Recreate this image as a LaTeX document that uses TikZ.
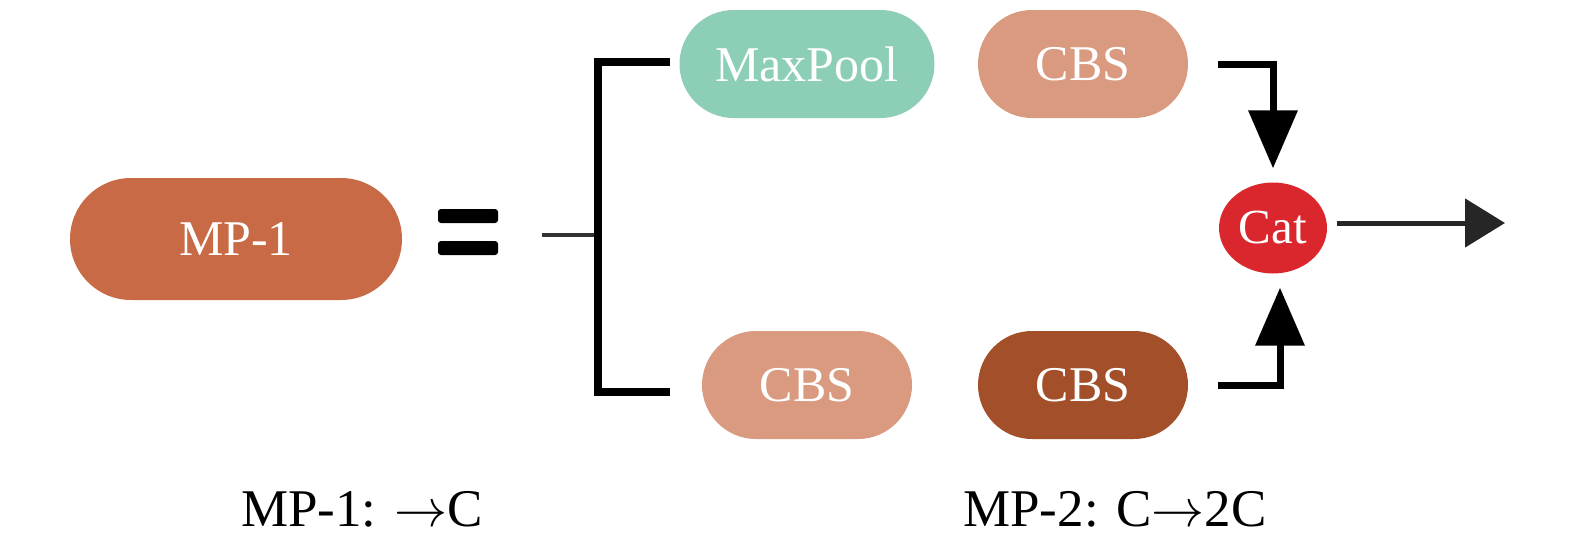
\RequirePackage{fix-cm}
\documentclass[tikz,border=0pt]{standalone}
\usepackage{fontspec}
\setmainfont{Liberation Serif}
\usetikzlibrary{shapes.misc,shapes.geometric,arrows.meta}
\definecolor{mpred}{RGB}{200,106,69}
\definecolor{poolgreen}{RGB}{141,207,182}
\definecolor{cbslight}{RGB}{217,154,128}
\definecolor{cbsdark}{RGB}{163,79,41}
\definecolor{catred}{RGB}{218,39,45}
\tikzset{
  blk/.style={rounded rectangle,fill=#1,text=white,inner sep=0pt,
    minimum width=210pt,minimum height=108pt,font=\fontsize{50}{60}\selectfont},
  arr/.style={line width=7pt,shorten <=30pt,shorten >=14pt,
    -{Triangle[width=48pt,length=58pt]}}
}
\begin{document}
\begin{tikzpicture}[x=1pt,y=-1pt]
  \useasboundingbox (0,0) rectangle (1575,544);
  \node[blk=mpred,minimum width=332pt,minimum height=122pt] (mp) at (236,239) {MP-1};
  \fill[rounded corners=3pt] (438,209) rectangle (498,223) (438,241) rectangle (498,255);
  \node[blk=poolgreen,minimum width=255pt] (pool) at (807,64) {MaxPool};
  \node[blk=cbslight] (cbsA) at (1083,64) {CBS};
  \node[blk=cbslight] (cbsB) at (807,385) {CBS};
  \node[blk=cbsdark] (cbsC) at (1083,385) {CBS};
  \node[ellipse,fill=catred,text=white,inner sep=0pt,minimum width=108pt,
    minimum height=91pt,font=\fontsize{49}{60}\selectfont] (cat) at (1273,228) {Cat};
  \coordinate (in) at (542,235);
  \coordinate (fork) at (598,235);
  \coordinate (up) at (670,62);
  \coordinate (down) at (670,392);
  \coordinate (out) at (1505,223);
  % splitting bracket
  \draw[line width=4pt,black!80] (in) -- (fork);
  \draw[line width=8pt] (up) -| (fork) |- (down);
  % into concat
  \draw[arr] (cbsA.east) -| (cat.north);
  \draw[arr] (cbsC.east) -| ([xshift=7pt]cat.south);
  \draw[line width=5pt,black!85,shorten <=10pt,-{Triangle[width=48pt,length=40pt]}]
    (cat.east |- out) -- (out);
  \node[font=\fontsize{53}{60}\selectfont] (lab1) at (362,509) {MP-1: $\rightarrow$C};
  \node[font=\fontsize{53}{60}\selectfont] (lab2) at (1115,509) {MP-2: C$\rightarrow$2C};
\end{tikzpicture}
\end{document}
